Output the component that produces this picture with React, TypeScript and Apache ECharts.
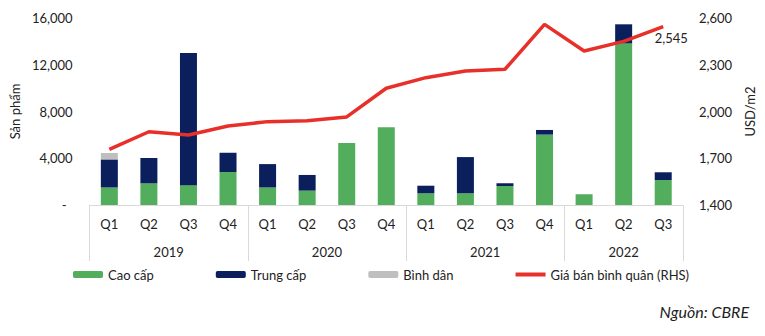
import React, { useEffect, useRef } from "react";
import * as echarts from "echarts";

const quarters = ["Q1", "Q2", "Q3", "Q4", "Q1", "Q2", "Q3", "Q4", "Q1", "Q2", "Q3", "Q4", "Q1", "Q2", "Q3"];
const years = ["2019", "2020", "2021", "2022"];
const yearCenters = [2, 6, 10, 13.5];
const caoCap = [1500, 1850, 1700, 2820, 1500, 1230, 5300, 6650, 1000, 1000, 1630, 6020, 920, 13830, 2140];
const trungCap = [2400, 2170, 11300, 1650, 2000, 1340, 0, 0, 650, 3100, 230, 400, 0, 1630, 660];
const binhDan = [550, 0, 0, 0, 0, 0, 0, 0, 0, 0, 0, 0, 0, 0, 0];
const giaBan = [1757, 1870, 1849, 1907, 1935, 1941, 1965, 2149, 2217, 2260, 2271, 2559, 2388, 2450, 2545];

const FONT = "Lato";
const TXT = "#222";
const RED = "#E8302A";

export default function App() {
  const ref = useRef<HTMLDivElement>(null);
  useEffect(() => {
    if (!ref.current) return;
    const chart = echarts.init(ref.current, null, { renderer: "svg" });
    const last = giaBan.length - 1;
    chart.setOption({
      animation: false,
      textStyle: { fontFamily: FONT, color: TXT },
      title: {
        text: "Nguồn: CBRE",
        right: 16,
        top: 303,
        padding: 0,
        textStyle: { fontFamily: FONT, fontSize: 16, fontStyle: "italic", fontWeight: "normal", color: TXT },
      },
      legend: {
        left: 73,
        top: 268,
        padding: 0,
        itemWidth: 30,
        itemHeight: 7,
        itemGap: 62,
        textStyle: { fontFamily: FONT, fontSize: 13, color: TXT },
        data: [
          "Cao cấp",
          "Trung cấp",
          "Bình dân",
          { name: "Giá bán bình quân (RHS)", icon: "path://M0,0L30,0L30,4L0,4Z", itemStyle: { color: RED } },
        ],
      },
      grid: { left: 89, right: 82, top: 18, bottom: 131 },
      xAxis: [
        {
          type: "category",
          data: quarters,
          position: "bottom",
          axisLine: { lineStyle: { color: "#d9d9d9", width: 1 } },
          axisTick: {
            show: true,
            interval: (i: number) => i % 4 === 0,
            length: 56,
            lineStyle: { color: "#d9d9d9" },
          },
          axisLabel: { margin: 12, fontSize: 13, color: TXT, fontFamily: FONT, interval: 0 },
        },
        {
          type: "value",
          min: 0,
          max: 15,
          interval: 0.5,
          position: "bottom",
          axisLine: { show: false },
          axisTick: { show: false },
          splitLine: { show: false },
          axisLabel: {
            margin: 40,
            fontSize: 13,
            color: TXT,
            fontFamily: FONT,
            formatter: (v: number) => {
              const k = yearCenters.indexOf(v);
              return k >= 0 ? years[k] : "";
            },
          },
        },
      ],
      yAxis: [
        {
          type: "value",
          min: 0,
          max: 16000,
          interval: 4000,
          name: "Sản phẩm",
          nameLocation: "middle",
          nameGap: 58,
          nameTextStyle: { fontSize: 13, color: TXT, fontFamily: FONT },
          axisLine: { show: false },
          axisTick: { show: false },
          splitLine: { show: false },
          axisLabel: {
            margin: 17,
            fontSize: 13,
            color: TXT,
            fontFamily: FONT,
            formatter: (v: number) => (v === 0 ? "{d|-}" : v.toLocaleString("en-US")),
            rich: { d: { padding: [0, 6, 0, 0], fontSize: 13, color: TXT, fontFamily: FONT } },
          },
        },
        {
          type: "value",
          min: 1400,
          max: 2600,
          interval: 300,
          name: "USD/m2",
          nameLocation: "middle",
          nameGap: 53,
          nameTextStyle: { fontSize: 13, color: TXT, fontFamily: FONT },
          axisLine: { show: false },
          axisTick: { show: false },
          splitLine: { show: false },
          axisLabel: {
            margin: 16,
            fontSize: 13,
            color: TXT,
            fontFamily: FONT,
            formatter: (v: number) => v.toLocaleString("en-US"),
          },
        },
      ],
      series: [
        { name: "Cao cấp", type: "bar", stack: "s", barWidth: 17, data: caoCap, itemStyle: { color: "#52AD5C" } },
        { name: "Trung cấp", type: "bar", stack: "s", barWidth: 17, data: trungCap, itemStyle: { color: "#0B1F5C" } },
        { name: "Bình dân", type: "bar", stack: "s", barWidth: 17, data: binhDan, itemStyle: { color: "#BFBFBF" } },
        {
          name: "Giá bán bình quân (RHS)",
          type: "line",
          yAxisIndex: 1,
          symbol: "circle",
          symbolSize: 0.1,
          data: giaBan.map((v, i) =>
            i === last
              ? {
                  value: v,
                  label: {
                    show: true,
                    position: "bottom",
                    offset: [8, 0],
                    fontSize: 13,
                    color: TXT,
                    fontFamily: FONT,
                    formatter: (p: any) => Number(p.value).toLocaleString("en-US"),
                  },
                }
              : v
          ),
          lineStyle: { color: RED, width: 3.5 },
          itemStyle: { color: RED },
        },
      ],
    });
    return () => chart.dispose();
  }, []);
  return <div ref={ref} style={{ position: "absolute", left: 0, top: 0, width: 765, height: 336 }} />;
}
